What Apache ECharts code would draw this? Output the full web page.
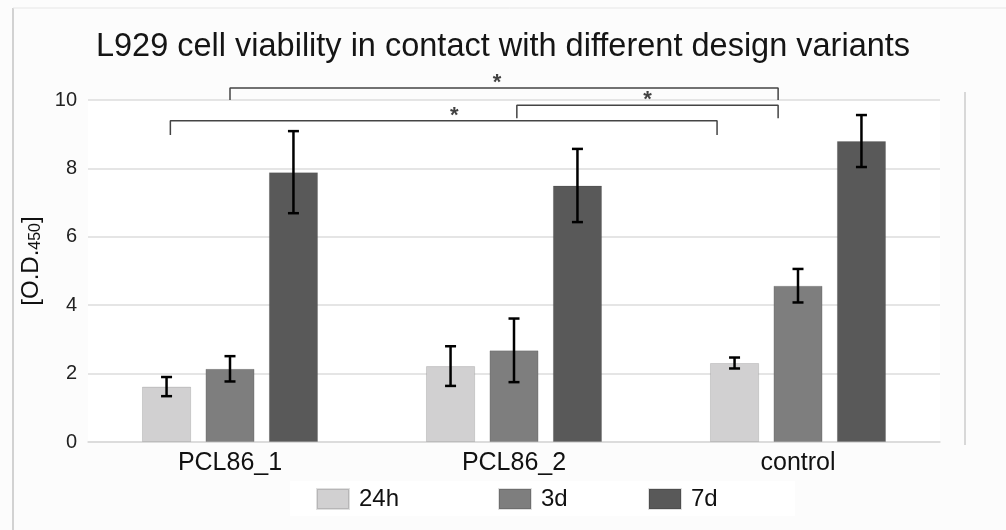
<!DOCTYPE html>
<html>
<head>
<meta charset="utf-8">
<script src="https://cdn.jsdelivr.net/npm/echarts@6/dist/echarts.min.js"></script>
<style>
  html, body { margin: 0; padding: 0; background: #fcfcfc; }
  #main { width: 1006px; height: 530px; }
</style>
</head>
<body>
<div id="main"></div>
<script>
// 数据
const categories = ['PCL86_1', 'PCL86_2', 'control']
const seriesNames = ['24h', '3d', '7d']
const val24h = [1.62, 2.22, 2.31]
const val3d = [2.14, 2.68, 4.57]
const val7d = [7.89, 7.50, 8.80]
const err24h = [0.28, 0.58, 0.16]
const err3d = [0.37, 0.93, 0.49]
const err7d = [1.20, 1.07, 0.76]
const yTicks = [0, 2, 4, 6, 8, 10]
// 显著性括号: [x起, x止, 竖线底, 横线高]  (x 以类别序号计)
const brackets = [
    [0.00, 1.93, 10.00, 10.35],
    [1.01, 1.93, 9.47, 9.85],
    [-0.21, 1.715, 8.98, 9.39]
]
const starX = [0.94, 1.47, 0.79]

const colors = ['#d1d0d1', '#7e7e7e', '#595959']
const values = [val24h, val3d, val7d]
const errors = [err24h, err3d, err7d]
const legendLeft = [316, 498, 648]
const GAP = 0.29
const CAT_GAP = 0.38

function errorRender (k) {
    return function (params, api) {
        let x = api.value(0)
        let m = api.value(1)
        let e = api.value(2)
        let band = api.size([1, 0])[0]
        let w = band * (1 - CAT_GAP) / (3 + 2 * GAP)
        let off = (k - 1) * w * (1 + GAP)
        let hi = api.coord([x, m + e])
        let lo = api.coord([x, m - e])
        let cx = hi[0] + off
        let cap = 5.5
        let style = { stroke: '#000', lineWidth: 2.5 }
        return {
            type: 'group',
            children: [
                { type: 'line', shape: { x1: cx, y1: hi[1], x2: cx, y2: lo[1] }, style: style },
                { type: 'line', shape: { x1: cx - cap, y1: hi[1], x2: cx + cap, y2: hi[1] }, style: style },
                { type: 'line', shape: { x1: cx - cap, y1: lo[1], x2: cx + cap, y2: lo[1] }, style: style }
            ]
        }
    }
}

let chart = echarts.init(document.getElementById('main'))
let series = []
seriesNames.forEach((name, k) => {
    series.push({
        name: name,
        type: 'bar',
        data: values[k],
        barGap: (GAP * 100) + '%',
        barCategoryGap: (CAT_GAP * 100) + '%',
        itemStyle: { color: colors[k], borderColor: 'rgba(0,0,0,0.12)', borderWidth: 1 },
        silent: true
    })
})
seriesNames.forEach((name, k) => {
    series.push({
        type: 'custom',
        renderItem: errorRender(k),
        data: categories.map((c, i) => [i, values[k][i], errors[k][i]]),
        z: 5,
        silent: true
    })
})
brackets.forEach((b, i) => {
    series.push({
        type: 'line',
        xAxisIndex: 1,
        data: [[b[0], b[2]], [b[0], b[3]], [b[1], b[3]], [b[1], b[2]]],
        symbol: 'none',
        clip: false,
        silent: true,
        lineStyle: { color: '#444', width: 1.5 },
        z: 6
    })
    series.push({
        type: 'scatter',
        xAxisIndex: 1,
        data: [[starX[i], b[3]]],
        symbolSize: 0,
        clip: false,
        silent: true,
        label: {
            show: true,
            position: 'top',
            distance: -6,
            formatter: '*',
            fontSize: 22,
            fontWeight: 'bold',
            color: '#111',
            fontFamily: 'Liberation Sans'
        }
    })
})

let option = {
    backgroundColor: '#fcfcfc',
    animation: false,
    textStyle: { fontFamily: 'Liberation Sans' },
    title: {
        text: 'L929 cell viability in contact with different design variants',
        left: 'center',
        top: 26,
        textStyle: { fontSize: 32.5, fontWeight: 'normal', color: '#151515', fontFamily: 'Liberation Sans' }
    },
    legend: seriesNames.map((name, k) => ({
        data: [{ name: name, icon: 'rect' }],
        left: legendLeft[k],
        top: 487,
        padding: 0,
        itemWidth: 32,
        itemHeight: 20,
        textStyle: { fontSize: 24, color: '#111', padding: [0, 0, 0, 5] }
    })),
    grid: {
        left: 88,
        right: 66,
        top: 100,
        bottom: 88,
        show: true,
        backgroundColor: '#ffffff',
        borderWidth: 0
    },
    xAxis: [{
        type: 'category',
        data: categories,
        axisTick: { show: false },
        axisLine: { lineStyle: { color: '#d9d9d9', width: 1.5 } },
        axisLabel: { fontSize: 25, color: '#111', margin: 9 }
    }, {
        type: 'value',
        min: -0.5,
        max: 2.5,
        show: false
    }],
    yAxis: {
        type: 'value',
        min: yTicks[0],
        max: yTicks[yTicks.length - 1],
        interval: 2,
        name: '[O.D.{sub|450}]',
        nameLocation: 'middle',
        nameGap: 36,
        nameRotate: 90,
        nameTextStyle: {
            fontSize: 24,
            color: '#111',
            padding: [0, 0, 0, 20],
            rich: { sub: { fontSize: 16, color: '#111', padding: [9, 0, 0, 0] } }
        },
        axisLine: { show: false },
        axisTick: { show: false },
        axisLabel: { fontSize: 20, color: '#222', margin: 11 },
        splitLine: { lineStyle: { color: '#dcdcdc', width: 1.5 } }
    },
    graphic: [
        { type: 'line', shape: { x1: 13, y1: 8, x2: 13, y2: 530 }, style: { stroke: '#c4c4c4', lineWidth: 1.5 } },
        { type: 'line', shape: { x1: 13, y1: 8, x2: 1006, y2: 8 }, style: { stroke: '#e6e6e6', lineWidth: 1 } },
        { type: 'line', shape: { x1: 965, y1: 92, x2: 965, y2: 445 }, style: { stroke: '#d8d8d8', lineWidth: 2 } },
        { type: 'rect', z: -1, shape: { x: 290, y: 481, width: 505, height: 35 }, style: { fill: '#ffffff' } }
    ],
    series: series
}
chart.setOption(option)
</script>
</body>
</html>
